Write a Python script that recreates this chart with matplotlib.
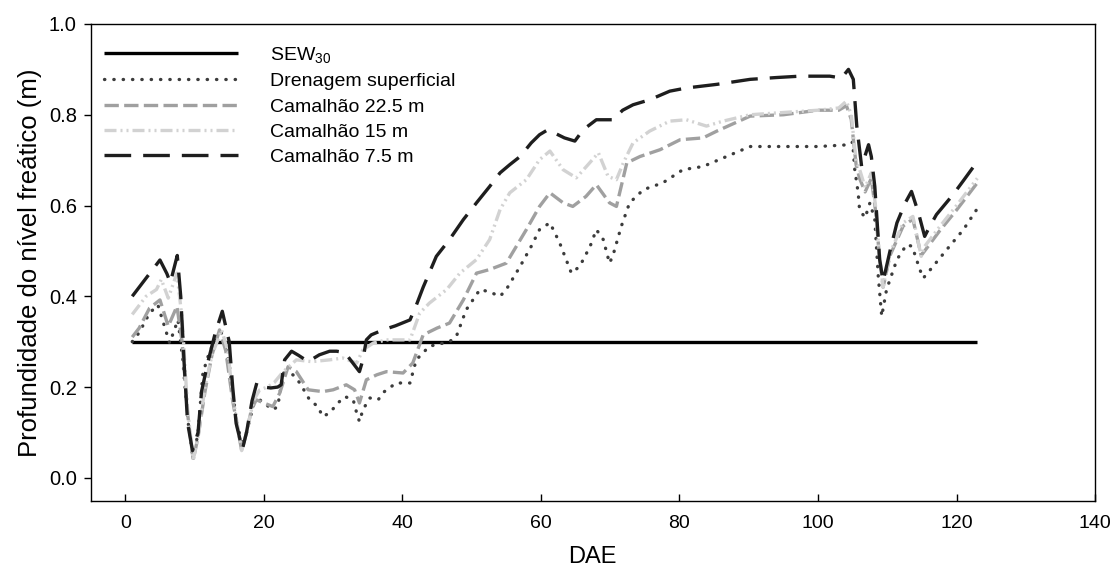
import matplotlib
matplotlib.use("Agg")
import matplotlib.pyplot as plt

plt.rcParams['font.family'] = ['Liberation Sans', 'DejaVu Sans']
plt.rcParams['mathtext.default'] = 'regular'

# ---- data ----
sew_days = [1, 123]
sew_vals = [0.30, 0.30]

c75_days = [1, 2, 3, 4, 5, 6, 6.5, 7.5, 8, 8.5, 9, 9.7, 10.5, 11, 12, 13, 14, 15, 15.5, 16, 16.9,
            17.5, 18.3, 19, 20, 21, 22, 22.5, 23, 24, 25, 26.4, 28, 29.5, 30.5, 31.7, 33, 33.8,
            34.3, 34.8, 35.5, 37.2, 39, 41.1, 42, 43, 44.9, 46.8, 48.8, 50.7, 52.6, 54.1, 55.5,
            57, 58.6, 59.8, 61, 62.2, 63.4, 64.9, 66.1, 68, 70.4, 71.8, 73.3, 75.7, 78.6, 81,
            85.4, 90.2, 94, 97.4, 101.7, 103.4, 104.4, 105.1, 105.6, 106.3, 107.3, 107.7, 108.2,
            108.9, 109.4, 110.4, 111.4, 112.6, 113.5, 114.5, 115.4, 116, 117.1, 119.5, 121, 123]
c75_vals = [.40, .42, .44, .46, .48, .45, .43, .49, .40, .25, .12, .06, .10, .19, .26, .32, .367, .30,
            .20, .12, .063, .10, .17, .21, .20, .198, .20, .205, .26, .279, .27, .256, .271, .279,
            .279, .276, .25, .234, .26, .304, .315, .326, .335, .348, .38, .42, .488, .525, .569,
            .606, .642, .672, .69, .708, .738, .756, .767, .758, .749, .742, .767, .789, .789, .81,
            .822, .833, .852, .859, .867, .878, .882, .885, .885, .881, .90, .878, .775, .686, .734,
            .708, .642, .481, .433, .50, .562, .606, .631, .584, .532, .55, .58, .624, .655, .697]

c15_days = [1, 2, 3, 4.5, 5.2, 6.2, 7.45, 8.2, 9, 9.8, 10.5, 11.5, 12.5, 13.9, 14.8, 15.5, 16.8,
            17.5, 18.5, 19.4, 20.5, 21.5, 22.8, 24.7, 26.9, 29.5, 31.4, 33.4, 34.3, 35.8, 37.7,
            41.1, 42.5, 43.9, 46.4, 48.3, 50.7, 52.6, 54.1, 55.5, 57.9, 59.8, 61.3, 63.2, 65.1,
            66.8, 68.3, 69.7, 70.9, 71.9, 73.3, 75.7, 78.6, 81, 83.9, 86.3, 90.2, 95, 100, 103,
            104.1, 104.8, 105.5, 106, 106.8, 107.7, 108.3, 108.8, 109.4, 110.4, 112.3, 113.7,
            114.9, 115.4, 117.6, 120, 123]
c15_vals = [.36, .38, .40, .415, .437, .396, .451, .35, .15, .04, .09, .20, .27, .326, .28, .18, .06,
            .10, .17, .194, .20, .21, .234, .26, .256, .26, .264, .253, .282, .297, .304, .304,
            .363, .385, .415, .451, .481, .525, .591, .628, .657, .701, .72, .679, .661, .69, .716,
            .664, .657, .694, .738, .764, .786, .789, .775, .786, .80, .805, .81, .815, .83, .80,
            .70, .68, .64, .672, .60, .50, .42, .495, .562, .576, .488, .51, .554, .60, .66]

c225_days = [1, 2, 3.5, 5, 6.2, 7.45, 8.2, 9, 9.8, 10.5, 11.5, 12.5, 13.6, 14.5, 15.5, 16.8, 17.5,
             18.2, 18.9, 20, 21.3, 22.3, 23.5, 24.7, 26.4, 28.5, 30, 31.9, 33.1, 33.8, 34.8, 36.3,
             37.7, 40.1, 41.5, 43, 45, 46.8, 48.8, 50.7, 52.6, 55, 57.9, 59.8, 61.3, 63.2, 64.6,
             66.5, 68, 69.9, 70.9, 72.4, 74.3, 77.2, 80.1, 83.4, 85.4, 90.2, 95, 100, 103, 104.1,
             104.8, 105.5, 106, 106.8, 107.7, 108.3, 108.8, 109.4, 110.4, 112.3, 113.7, 114.9,
             115.4, 117.6, 120, 123]
c225_vals = [.31, .33, .374, .392, .334, .378, .30, .14, .04, .09, .19, .27, .326, .28, .17, .06, .10,
             .15, .172, .165, .157, .187, .245, .234, .194, .19, .194, .205, .194, .165, .216, .227,
             .234, .231, .253, .315, .33, .341, .392, .451, .459, .473, .547, .598, .628, .606, .598,
             .62, .646, .606, .598, .694, .708, .723, .745, .749, .764, .797, .80, .81, .81, .82,
             .79, .69, .66, .63, .66, .59, .50, .42, .49, .555, .57, .49, .50, .545, .59, .65]

dren_days = [1, 2, 3.5, 4.7, 6.4, 7.6, 8.3, 9, 9.8, 10.5, 11.2, 12, 13.1, 14, 15, 16, 16.9, 17.5,
             18.5, 19.4, 21.3, 22, 22.8, 24.2, 25.2, 26.6, 27.8, 28.5, 29.5, 30.7, 31.7, 32.9, 33.4,
             33.8, 34.3, 35.3, 36.5, 37.4, 39.1, 41.1, 42, 43.9, 46.8, 47.8, 49.2, 51.2, 52.5, 54.1,
             55, 57, 58.6, 59.8, 61.3, 62.7, 64.4, 65.6, 67.1, 68, 69, 69.9, 70.4, 71.6, 72.8, 74.8,
             77.6, 80.5, 83.4, 86.8, 90.2, 95, 100, 104.6, 105, 105.3, 105.8, 106, 106.8, 107.5,
             108.2, 108.7, 109.2, 109.9, 111.4, 112.8, 113.6, 114.7, 115.2, 116.4, 118.6, 121, 122.9]
dren_vals = [.30, .32, .363, .381, .297, .348, .26, .13, .04, .10, .231, .27, .312, .32, .25, .13, .07,
             .10, .16, .172, .15, .157, .231, .227, .209, .172, .157, .135, .143, .165, .179, .172,
             .143, .124, .15, .176, .172, .19, .209, .209, .26, .29, .30, .312, .37, .415, .41, .40,
             .415, .466, .51, .547, .562, .518, .451, .466, .51, .547, .525, .473, .49, .554, .606,
             .635, .65, .679, .686, .708, .73, .73, .73, .734, .74, .68, .628, .591, .573, .606,
             .569, .444, .356, .415, .481, .514, .51, .459, .44, .462, .503, .547, .591]

labels = [r'SEW$_{30}$', 'Drenagem superficial', 'Camalhão 22.5 m', 'Camalhão 15 m', 'Camalhão 7.5 m']

# ---- figure ----
fig = plt.figure(figsize=(11.14, 5.71), dpi=100)
ax = fig.add_axes([0.0814, 0.1226, 0.9016, 0.8354])

lw = 2.4
ax.plot(sew_days, sew_vals, color='black', lw=lw, solid_capstyle='butt', label=labels[0], zorder=3)
ax.plot(dren_days, dren_vals, color='#3c3c3c', lw=lw, linestyle=(0, (0.1, 2.7)),
        dash_capstyle='round', label=labels[1], zorder=4)
ax.plot(c225_days, c225_vals, color='#a0a0a0', lw=lw, linestyle=(0, (4.3, 1.6)),
        label=labels[2], zorder=5)
ax.plot(c15_days, c15_vals, color='#d2d2d2', lw=lw, linestyle=(0, (3.6, 1.2, 0.6, 1.2, 0.6, 1.2)),
        label=labels[3], zorder=6)
ax.plot(c75_days, c75_vals, color='#1e1e1e', lw=lw, linestyle=(0, (8.0, 3.6)),
        label=labels[4], zorder=7)

ax.set_xlim(-5, 140)
ax.set_ylim(-0.051, 1.0)
ax.set_xticks(range(0, 141, 20))
ax.set_yticks([0.0, 0.2, 0.4, 0.6, 0.8, 1.0])
ax.set_yticklabels(['0.0', '0.2', '0.4', '0.6', '0.8', '1.0'])
ax.tick_params(axis='x', labelsize=14, length=5, width=1, direction='in', pad=10)
ax.tick_params(axis='y', labelsize=14.5, length=5, width=1, direction='out', pad=5)
for s in ax.spines.values():
    s.set_linewidth(1.0)

ax.set_xlabel('DAE', fontsize=17, labelpad=10)
ax.set_ylabel('Profundidade do nível freático (m)', fontsize=18.5, labelpad=5)

leg = ax.legend(loc='upper left', bbox_to_anchor=(0.0, 0.985), frameon=False, fontsize=14,
                handlelength=6.9, handletextpad=1.6, labelspacing=0.4, borderaxespad=0.3)

fig.savefig('out.png', dpi=100)
